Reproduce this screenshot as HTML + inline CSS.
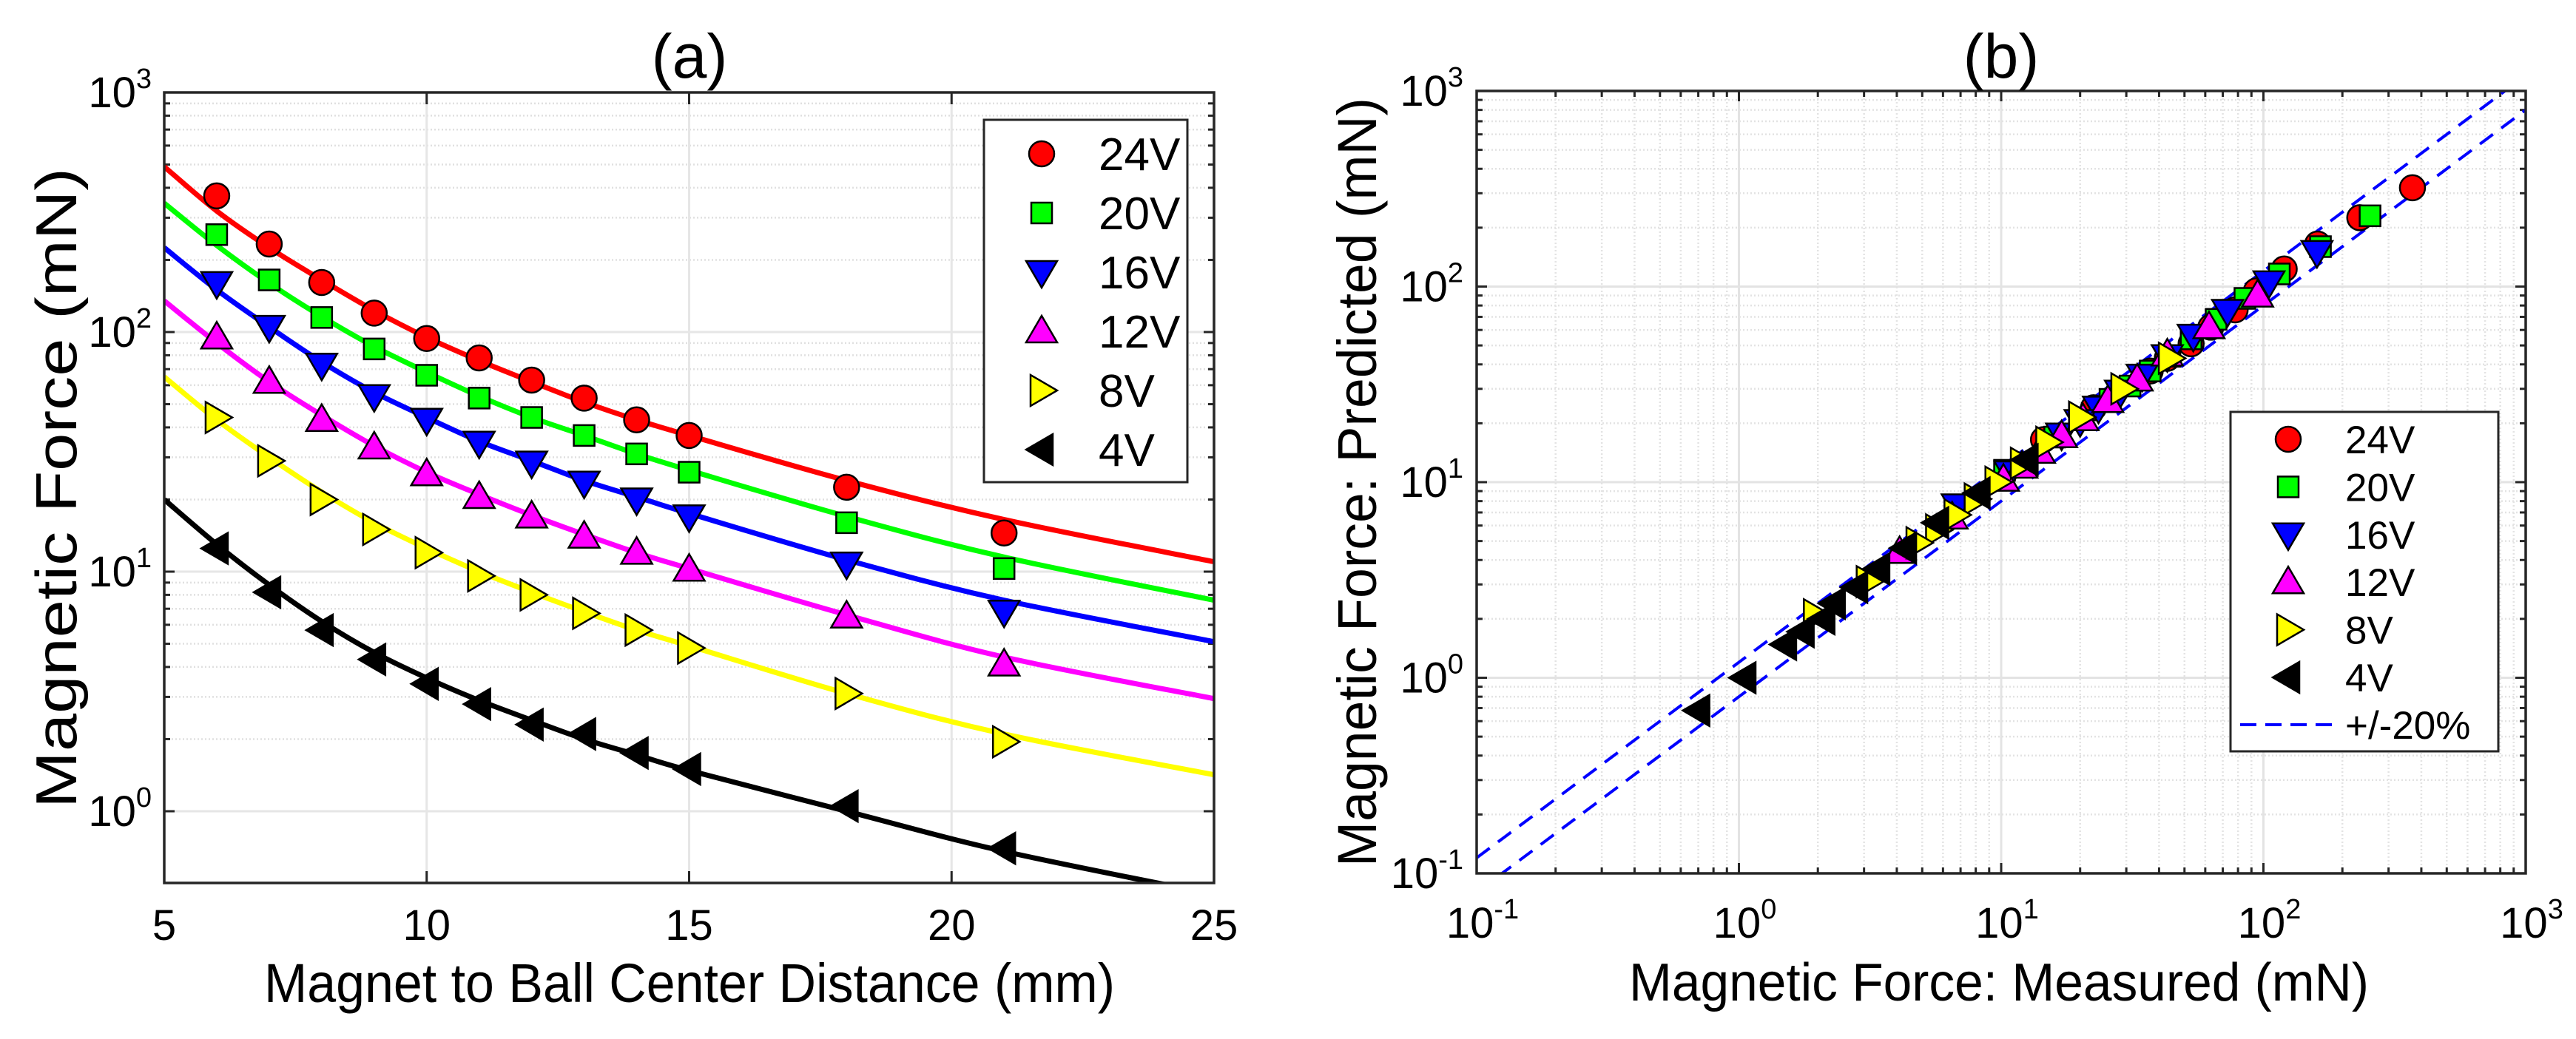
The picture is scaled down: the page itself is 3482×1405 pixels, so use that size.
<!DOCTYPE html>
<html><head><meta charset="utf-8">
<style>
html,body{margin:0;padding:0;background:#fff;}
svg{display:block;font-family:"Liberation Sans",Arial,sans-serif;}
</style></head>
<body>
<svg id="fig" xmlns="http://www.w3.org/2000/svg" width="3482" height="1405" viewBox="0 0 3482 1405">
<defs>
<clipPath id="clipA"><rect x="222" y="125" width="1419" height="1069"/></clipPath>
<clipPath id="clipB"><rect x="1996" y="123" width="1418" height="1058"/></clipPath>
</defs>
<g id="panelA"></g>
<g id="panelB"></g>
</svg>
<script>
// ---------- data ----------
const labels = ["24V","20V","16V","12V","8V","4V"];
const colors = ["#ff0000","#00ff00","#0000ff","#ff00ff","#ffff00","#000000"];
const shapes = ["circle","square","tdown","tup","tright","tleft"];
const dist = [6,7,8,9,10,11,12,13,14,15,18,21];
const m24 = [370,233,161,120,94,78,63,53,43,37,22.5,14.5];
const m20 = [255,165,115,85,66,53,44,37,31,26,16,10.3];
const m16 = [160,105,73,54,43,34.5,28.5,23.5,20,17,10.8,6.8];
const m12 = [95,62,43,33,25.5,20.5,17,14,12,10.2,6.5,4.1];
const m8  = [44,29,20,15,12,9.6,8,6.7,5.7,4.8,3.1,1.95];
const m4  = [12.5,8.2,5.7,4.3,3.4,2.8,2.3,2.1,1.75,1.5,1.05,0.7];
const curveDist = [5,6,7,8,9,10,11,12,13,14,15,18,21,25];
const c24 = [490,320,225,165,123,95,76,62,51,43,37,24,16.5,11];
const c20 = [345,230,160,116,87,68,54,44,37,31,26.5,17,11.5,7.6];
const c16 = [225,150,105,75,56,44,35,29,24,20.5,17.5,11.2,7.6,5.1];
const c12 = [135,90,62,45,33.5,26,21,17.2,14.3,12,10.3,6.6,4.4,2.95];
const c8  = [65,43,30,21.5,16,12.5,10,8.2,6.8,5.7,4.9,3.1,2.1,1.42];
const c4  = [20,13,8.8,6.2,4.6,3.6,2.9,2.4,2.0,1.72,1.48,1.0,0.68,0.45];
const xTicksA = [5,10,15,20,25];
const yDecadesA = [0,1,2,3];
const decadesB = [-1,0,1,2,3];
const bandFactors = [1.2,0.8];

const measured = [m24,m20,m16,m12,m8,m4];
const curves = [c24,c20,c16,c12,c8,c4];

// ---------- helpers ----------
const NS="http://www.w3.org/2000/svg";
function el(tag, attrs, parent){const e=document.createElementNS(NS,tag);for(const k in attrs)e.setAttribute(k,attrs[k]);if(parent)parent.appendChild(e);return e;}
const A={x0:222,x1:1641,y0:125,y1:1194};
const xA=v=>A.x0+(v-5)/20*(A.x1-A.x0);
const yA=v=>1097-324*Math.log10(v);
const B={x0:1996,x1:3414,y0:123,y1:1181};
const xB=v=>B.x0+(Math.log10(v)+1)/4*(B.x1-B.x0);
const yB=v=>B.y1-(Math.log10(v)+1)/4*(B.y1-B.y0);

function marker(parent,shape,cx,cy,fill,s){
  s=s||1;let e;
  const st={fill:fill,stroke:"#000","stroke-width":2.5};
  if(shape==="circle"){e=el("ellipse",Object.assign({cx:cx,cy:cy,rx:17*s,ry:17*s},st),parent);}
  else if(shape==="square"){e=el("rect",Object.assign({x:cx-14*s,y:cy-14*s,width:28*s,height:28*s},st),parent);}
  else{
    let p;const w=21*s,h=20*s;
    if(shape==="tdown")p=[[cx-w,cy-h*0.75],[cx+w,cy-h*0.75],[cx,cy+h*1.05]];
    else if(shape==="tup")p=[[cx-w,cy+h*0.75],[cx+w,cy+h*0.75],[cx,cy-h*1.05]];
    else if(shape==="tright")p=[[cx-h*0.75,cy-w],[cx-h*0.75,cy+w],[cx+h*1.05,cy]];
    else p=[[cx+h*0.75,cy-w],[cx+h*0.75,cy+w],[cx-h*1.05,cy]];
    e=el("polygon",Object.assign({points:p.map(q=>q.join(",")).join(" ")},st),parent);
  }
  return e;
}
function smoothPath(pts){
  let d="M"+pts[0][0]+","+pts[0][1];
  for(let i=0;i<pts.length-1;i++){
    const p0=pts[i-1]||pts[i],p1=pts[i],p2=pts[i+1],p3=pts[i+2]||p2;
    const c1=[p1[0]+(p2[0]-p0[0])/6,p1[1]+(p2[1]-p0[1])/6];
    const c2=[p2[0]-(p3[0]-p1[0])/6,p2[1]-(p3[1]-p1[1])/6];
    d+=" C"+c1.join(",")+" "+c2.join(",")+" "+p2.join(",");
  }
  return d;
}
function supLabel(parent,x,y,exp,anchor,name){
  const t=el("text",{x:x,y:y,"font-size":58,"text-anchor":anchor,fill:"#000"},parent);
  
  
  const a=el("tspan",{},t);a.textContent="10";
  const b=el("tspan",{"font-size":38,dy:-26},t);b.textContent=String(exp);
  return t;
}

// ---------- panel A ----------
const gA=document.getElementById("panelA");
const gridA=el("g",{},gA);


yDecadesA.forEach(d=>{
  for(let k=1;k<=9;k++){
    const v=k*Math.pow(10,d);if(v<0.5||v>1000)continue;
    const y=yA(v);
    const major=k===1;
    const ln=el("line",{x1:A.x0,x2:A.x1,y1:y,y2:y,stroke:major?"#e6e6e6":"#e0e0e0","stroke-width":major?3:2.5,"stroke-dasharray":major?"":"2,3"},gridA);
    
    
    const tl=major?14:8;
    el("line",{x1:A.x0,x2:A.x0+tl,y1:y,y2:y,stroke:"#262626","stroke-width":3},gA);
    el("line",{x1:A.x1,x2:A.x1-tl,y1:y,y2:y,stroke:"#262626","stroke-width":3},gA);
  }
});
xTicksA.forEach(v=>{
  const x=xA(v);
  if(v>5&&v<25){const g=el("line",{x1:x,x2:x,y1:A.y0,y2:A.y1,stroke:"#e6e6e6","stroke-width":3},gridA);
    
    }
  el("line",{x1:x,x2:x,y1:A.y1,y2:A.y1-16,stroke:"#262626","stroke-width":3},gA);
  el("line",{x1:x,x2:x,y1:A.y0,y2:A.y0+16,stroke:"#262626","stroke-width":3},gA);
  const t=el("text",{x:x,y:1271,"font-size":58,"text-anchor":"middle",fill:"#000"},gA);
  t.textContent=String(v);
  
  
});
yDecadesA.forEach(d=>supLabel(gA,205,yA(Math.pow(10,d))+20,d,"end","y-tick-label"));
const plotA=el("g",{"clip-path":"url(#clipA)"},gA);
curves.forEach((c,i)=>{
  const pts=curveDist.map((d,j)=>[xA(d),yA(c[j])]);
  const p=el("path",{d:smoothPath(pts),fill:"none",stroke:colors[i],"stroke-width":7},plotA);
  
  
});
measured.forEach((m,i)=>{
  m.forEach((v,j)=>{
    const mk=marker(plotA,shapes[i],xA(dist[j]),yA(v),colors[i]);
    
    
  });
});
const boxA=el("rect",{x:A.x0,y:A.y0,width:A.x1-A.x0,height:A.y1-A.y0,fill:"none",stroke:"#262626","stroke-width":3.5},gA);


const legA=el("g",{},gA);


el("rect",{x:1330,y:162,width:275,height:490,fill:"#fff",stroke:"#262626","stroke-width":3},legA);
labels.forEach((l,i)=>{
  const y=208+80*i;
  const mk=marker(legA,shapes[i],1408,y,colors[i]);
  
  
  const t=el("text",{x:1485,y:y+22,"font-size":62,fill:"#000"},legA);t.textContent=l;
  
  
});
const ta=el("text",{x:932,y:105,"font-size":84,"text-anchor":"middle",fill:"#000"},gA);ta.textContent="(a)";


const xla=el("text",{x:932,y:1355,"font-size":74,"text-anchor":"middle",fill:"#000",textLength:1150,lengthAdjust:"spacingAndGlyphs"},gA);xla.textContent="Magnet to Ball Center Distance (mm)";


const yla=el("text",{x:0,y:0,"font-size":78,"text-anchor":"middle",fill:"#000",transform:"translate(103,660) rotate(-90)",textLength:866,lengthAdjust:"spacingAndGlyphs"},gA);yla.textContent="Magnetic Force (mN)";



// ---------- panel B ----------
const gB=document.getElementById("panelB");
const gridB=el("g",{},gB);


decadesB.forEach(d=>{
  for(let k=1;k<=9;k++){
    const v=k*Math.pow(10,d);if(v>1000)continue;
    const major=k===1;
    const x=xB(v),y=yB(v);
    const gl1=el("line",{x1:B.x0,x2:B.x1,y1:y,y2:y,stroke:"#e3e3e3","stroke-width":major?3:2.5,"stroke-dasharray":major?"":"2,3"},gridB);
    
    
    const gl2=el("line",{x1:x,x2:x,y1:B.y0,y2:B.y1,stroke:"#e3e3e3","stroke-width":major?3:2.5,"stroke-dasharray":major?"":"2,3"},gridB);
    
    
    const tl=major?14:8;
    el("line",{x1:B.x0,x2:B.x0+tl,y1:y,y2:y,stroke:"#262626","stroke-width":3},gB);
    el("line",{x1:B.x1,x2:B.x1-tl,y1:y,y2:y,stroke:"#262626","stroke-width":3},gB);
    el("line",{x1:x,x2:x,y1:B.y1,y2:B.y1-tl,stroke:"#262626","stroke-width":3},gB);
    el("line",{x1:x,x2:x,y1:B.y0,y2:B.y0+tl,stroke:"#262626","stroke-width":3},gB);
  }
});
decadesB.forEach(d=>{
  supLabel(gB,1978,yB(Math.pow(10,d))+20,d,"end","y-tick-label-b");
  supLabel(gB,xB(Math.pow(10,d))+8,1268,d,"middle","x-tick-label-b");
});
const plotB=el("g",{"clip-path":"url(#clipB)"},gB);
bandFactors.forEach(f=>{
  const l=el("line",{x1:xB(0.1),y1:yB(0.1*f),x2:xB(1000),y2:yB(1000*f),stroke:"#0000ff","stroke-width":4,"stroke-dasharray":"22,14"},plotB);
  
  
});
measured.forEach((m,i)=>{
  m.forEach((v,j)=>{
    const pred=curves[i][j+1];
    const mk=marker(plotB,shapes[i],xB(v),yB(pred),colors[i]);
    
    
  });
});
const boxB=el("rect",{x:B.x0,y:B.y0,width:B.x1-B.x0,height:B.y1-B.y0,fill:"none",stroke:"#262626","stroke-width":3.5},gB);


const legB=el("g",{},gB);


el("rect",{x:3015,y:557,width:362,height:459,fill:"#fff",stroke:"#262626","stroke-width":3},legB);
labels.forEach((l,i)=>{
  const y=594+64.4*i;
  const mk=marker(legB,shapes[i],3093,y,colors[i],1.0);
  
  
  const t=el("text",{x:3170,y:y+19,"font-size":53,fill:"#000"},legB);t.textContent=l;
  
  
});
el("line",{x1:3028,x2:3152,y1:980,y2:980,stroke:"#0000ff","stroke-width":4,"stroke-dasharray":"22,12"},legB);
const tb20=el("text",{x:3170,y:999,"font-size":53,fill:"#000"},legB);tb20.textContent="+/-20%";


const tbt=el("text",{x:2705,y:105,"font-size":84,"text-anchor":"middle",fill:"#000"},gB);tbt.textContent="(b)";


const xlb=el("text",{x:2702,y:1353,"font-size":72,"text-anchor":"middle",fill:"#000",textLength:1000,lengthAdjust:"spacingAndGlyphs"},gB);xlb.textContent="Magnetic Force: Measured (mN)";


const ylb=el("text",{x:0,y:0,"font-size":74,"text-anchor":"middle",fill:"#000",transform:"translate(1860,652) rotate(-90)",textLength:1040,lengthAdjust:"spacingAndGlyphs"},gB);ylb.textContent="Magnetic Force: Predicted (mN)";


</script>
</body></html>
